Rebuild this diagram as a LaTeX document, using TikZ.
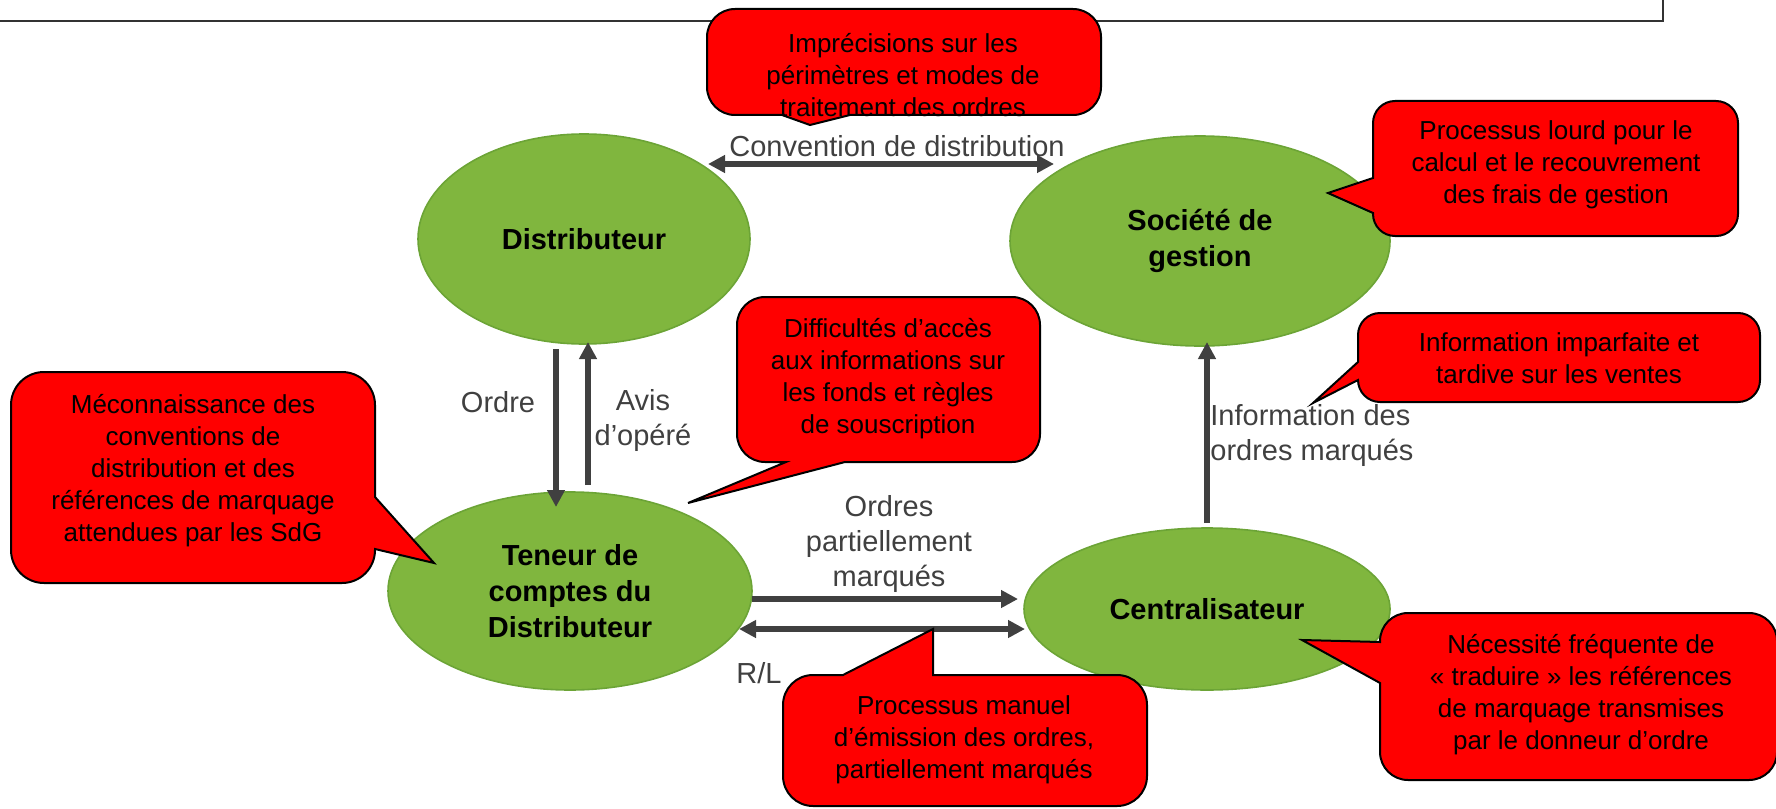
\documentclass[tikz,border=0pt]{standalone}
\usepackage{fontspec}
\setmainfont{Liberation Sans}
\usetikzlibrary{shapes.geometric,arrows.meta}
\definecolor{leaf}{RGB}{128,182,62}
\definecolor{leafline}{RGB}{108,164,54}
\definecolor{ink}{RGB}{64,64,64}
\tikzset{
  actor/.style={ellipse, fill=leaf, draw=leafline, line width=0.8pt, inner sep=0pt, outer sep=0pt,
    align=center, font=\fontsize{14.5}{18}\selectfont\bfseries},
  link/.style={draw=ink, line width=3pt},
  >={Triangle[length=8.5pt,width=8.5pt]},
  lbl/.style={text=ink, align=center, inner sep=0pt, font=\fontsize{14.5}{17.5}\selectfont},
  bubble/.style={fill=red, draw=black, line width=1pt},
  note/.style={align=center, inner sep=0pt, font=\fontsize{13}{16}\selectfont},
  frame/.style={draw=black!80, line width=1pt}
}
\begin{document}
\begin{tikzpicture}[x=0.5pt, y=-0.5pt]
\useasboundingbox (0,0) rectangle (1776,808);
\clip (0,0) rectangle (1776,808);
\draw[frame] (0,21) -- (1663,21) -- (1663,0);

\node[actor, minimum width=166pt, minimum height=105pt] (dist) at (584,239) {Distributeur};
\node[actor, minimum width=190pt, minimum height=105pt] (sdg) at (1200,241) {Société de\\gestion};
\node[actor, minimum width=182pt, minimum height=99pt] (ten) at (570,591) {Teneur de\\comptes du\\Distributeur};
\node[actor, minimum width=183pt, minimum height=81pt] (cent) at (1207,609) {Centralisateur};

\draw[link, <->] ([xshift=-21pt,yshift=37.5pt]dist.east) -- ([xshift=22pt,yshift=38.5pt]sdg.west);
\draw[link, ->] ([xshift=-14pt,yshift=-2.5pt]dist.south) -- ([xshift=-7pt,yshift=-7.5pt]ten.north);
\draw[link, ->] ([xshift=9pt,yshift=3.5pt]ten.north) -- ([xshift=2pt,yshift=1pt]dist.south);
\draw[link, ->] ([yshift=2.5pt]cent.north) -- ([xshift=3.5pt,yshift=2pt]sdg.south);
\draw[link, ->] ([yshift=-4pt]ten.east) -- ([xshift=-3pt,yshift=5pt]cent.west);
\draw[link, <->] ([xshift=-6.5pt,yshift=-19pt]ten.east) -- ([xshift=0.5pt,yshift=-10pt]cent.west);

\node[lbl] (conv) at (897,146) {Convention de distribution};
\node[lbl] (ordre) at (498,402) {Ordre};
\node[lbl] (avis) at (643,420) {Avis\\d’opéré};
\node[lbl, align=left, anchor=west] (info) at (1210,435) {Information des\\ordres marqués};
\node[lbl] (partiel) at (889,544) {Ordres\\partiellement\\marqués};
\node[lbl] (rl) at (759,673) {R/L};

\draw[bubble] (880,115) [rounded corners=14pt] -- (1101,115) -- (1101,9) -- (707,9) -- (707,115)
  [sharp corners] -- (782,115) -- (810,125) -- (850,115) -- cycle;
\node[note] (impr) at (903,75) {Imprécisions sur les\\périmètres et modes de\\traitement des ordres};

\draw[bubble] (1373,160) [rounded corners=11pt] -- (1373,101) -- (1738,101) -- (1738,236) -- (1373,236)
  [sharp corners] -- (1373,213) -- (1328,193) -- (1373,178) -- cycle;
\node[note] (lourd) at (1556,165) {Processus lourd pour le\\calcul et le recouvrement\\des frais de gestion};

\draw[bubble] (900,462) [rounded corners=14pt] -- (1040,462) -- (1040,297) -- (737,297) -- (737,462)
  [sharp corners] -- (786,462) -- (688,503) -- (845,462) -- cycle;
\node[note] (diff) at (888,379) {Difficultés d’accès\\aux informations sur\\les fonds et règles\\de souscription};

\draw[bubble] (375,470) [rounded corners=16.5pt] -- (375,372) -- (11,372) -- (11,583) -- (375,583)
  [sharp corners] -- (375,549) -- (434,563) -- (375,497) -- cycle;
\node[note] (mecon) at (193,471) {Méconnaissance des\\conventions de\\distribution et des\\références de marquage\\attendues par les SdG};

\draw[bubble] (1358,340) [rounded corners=11pt] -- (1358,313) -- (1760,313) -- (1760,402) -- (1358,402)
  [sharp corners] -- (1358,380) -- (1313,403) -- (1358,362) -- cycle;
\node[note] (imparf) at (1559,358) {Information imparfaite et\\tardive sur les ventes};

\draw[bubble] (1000,675) [rounded corners=15pt] -- (1147,675) -- (1147,806) -- (783,806) -- (783,675)
  [sharp corners] -- (843,675) -- (933,629) -- (933,675) -- cycle;
\node[note] (manuel) at (964,740) {Processus manuel\\d’émission des ordres,\\partiellement marqués};

\draw[bubble] (1380,720) [rounded corners=14pt] -- (1380,780) -- (1777,780) -- (1777,613) -- (1380,613)
  [sharp corners] -- (1380,642) -- (1302,640) -- (1380,683) -- cycle;
\node[note] (trad) at (1581,695) {Nécessité fréquente de\\« traduire » les références\\de marquage transmises\\par le donneur d’ordre};
\end{tikzpicture}
\end{document}
